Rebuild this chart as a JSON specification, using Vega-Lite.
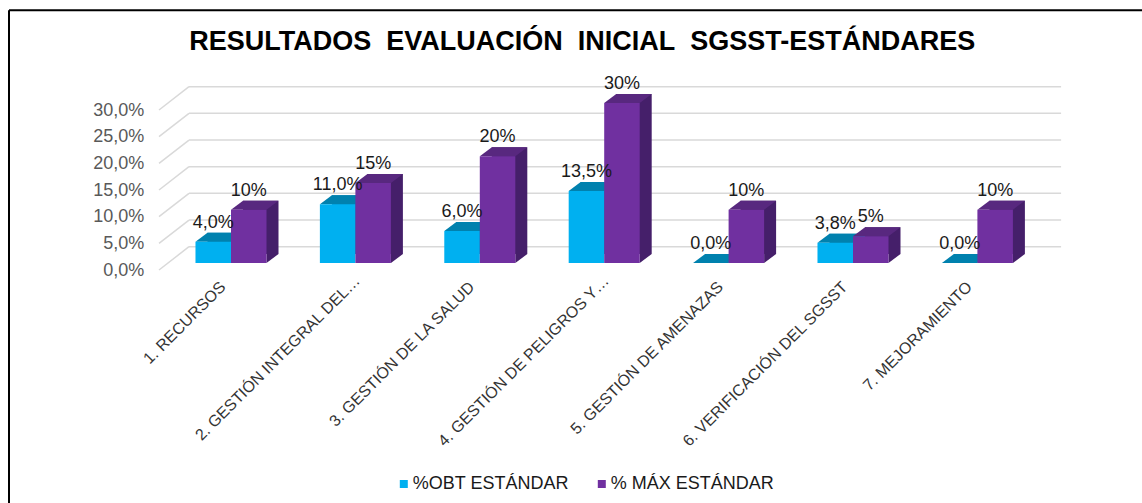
{
"$schema":"https://vega.github.io/schema/vega-lite/v6.json",
"width":870.8,"height":160,
"autosize":{"type":"none"},
"padding":{"left":168.8,"top":103,"right":102.4,"bottom":240},
"background":"white",
"config":{"view":{"stroke":null},"axisY":{"title":null,"domain":false,"ticks":false,"grid":false,"tickCount":6,"labelOverlap":false,"labelExpr":"replace(format(datum.value,'.1f'),'.',',')+'%'","labelFont":"Liberation Sans","labelFontSize":18,"labelColor":"#595959","labelPadding":25,"labelOffset":7}},
"title":{"text":"RESULTADOS\u00a0 EVALUACIÓN\u00a0 INICIAL\u00a0 SGSST-ESTÁNDARES","font":"Liberation Sans","fontSize":27,"fontWeight":"bold","color":"#000000","anchor":"middle","dx":-22,"offset":-47},
"datasets":{
"bars":[
{"cat":"1. RECURSOS","series":"%OBT ESTÁNDAR","value":4,"label":"4,0%"},
{"cat":"1. RECURSOS","series":"% MÁX ESTÁNDAR","value":10,"label":"10%"},
{"cat":"2. GESTIÓN INTEGRAL DEL…","series":"%OBT ESTÁNDAR","value":11,"label":"11,0%"},
{"cat":"2. GESTIÓN INTEGRAL DEL…","series":"% MÁX ESTÁNDAR","value":15,"label":"15%"},
{"cat":"3. GESTIÓN DE LA SALUD","series":"%OBT ESTÁNDAR","value":6,"label":"6,0%"},
{"cat":"3. GESTIÓN DE LA SALUD","series":"% MÁX ESTÁNDAR","value":20,"label":"20%"},
{"cat":"4. GESTIÓN DE PELIGROS Y…","series":"%OBT ESTÁNDAR","value":13.5,"label":"13,5%"},
{"cat":"4. GESTIÓN DE PELIGROS Y…","series":"% MÁX ESTÁNDAR","value":30,"label":"30%"},
{"cat":"5. GESTIÓN DE AMENAZAS","series":"%OBT ESTÁNDAR","value":0,"label":"0,0%"},
{"cat":"5. GESTIÓN DE AMENAZAS","series":"% MÁX ESTÁNDAR","value":10,"label":"10%"},
{"cat":"6. VERIFICACIÓN DEL SGSST","series":"%OBT ESTÁNDAR","value":3.8,"label":"3,8%"},
{"cat":"6. VERIFICACIÓN DEL SGSST","series":"% MÁX ESTÁNDAR","value":5,"label":"5%"},
{"cat":"7. MEJORAMIENTO","series":"%OBT ESTÁNDAR","value":0,"label":"0,0%"},
{"cat":"7. MEJORAMIENTO","series":"% MÁX ESTÁNDAR","value":10,"label":"10%"}
],
"grid":[{"v":0},{"v":5},{"v":10},{"v":15},{"v":20},{"v":25},{"v":30}]
},
"resolve":{"scale":{"x":"independent"}},
"layer":[
{"mark":{"type":"rule","stroke":"#000000","strokeWidth":2,"clip":false},
 "data":{"values":[{"a":1}]},
 "encoding":{
  "x":{"datum":-5,"type":"quantitative","scale":{"domain":[0,1],"range":[-9.8,20.2]},"axis":null},
  "x2":{"datum":40},
  "y":{"datum":47.4,"type":"quantitative","scale":{"domain":[0,30],"nice":false,"zero":false}}}},
{"mark":{"type":"rule","stroke":"#000000","strokeWidth":2,"clip":false},
 "data":{"values":[{"a":1}]},
 "encoding":{
  "x":{"datum":-5,"type":"quantitative","scale":{"domain":[0,1],"range":[-9.8,20.2]},"axis":null},
  "y":{"datum":47.4,"type":"quantitative","scale":{"domain":[0,30],"nice":false,"zero":false}},
  "y2":{"datum":-60}}},
{"data":{"name":"grid"},
 "mark":{"type":"rule","stroke":"#D9D9D9","strokeWidth":1.5,"yOffset":7,"y2Offset":-16.3},
 "encoding":{
  "x":{"datum":0,"type":"quantitative","scale":{"domain":[0,1],"range":[-9.8,20.2]},"axis":null},
  "x2":{"datum":1},
  "y":{"field":"v","type":"quantitative","scale":{"domain":[0,30],"nice":false,"zero":false}},
  "y2":{"field":"v"}}},
{"data":{"name":"grid"},
 "mark":{"type":"rule","stroke":"#D9D9D9","strokeWidth":1.5,"yOffset":-16.3,"y2Offset":-16.3},
 "encoding":{
  "x":{"datum":1,"type":"quantitative","scale":{"domain":[0,1],"range":[-9.8,20.2]},"axis":null},
  "x2":{"datum":30.07},
  "y":{"field":"v","type":"quantitative","scale":{"domain":[0,30],"nice":false,"zero":false}},
  "y2":{"field":"v"}}},
{"data":{"name":"bars"},
 "encoding":{
  "x":{"field":"cat","type":"nominal","sort":null,
   "scale":{"paddingInner":0.429,"paddingOuter":0.2145},
   "axis":{"title":null,"domain":false,"ticks":false,"labelAngle":-45,"labelAlign":"right","labelBaseline":"middle",
    "labelPadding":{"condition":{"test":"indexof(datum.label,'…')>=0","value":15},"value":21},
    "labelOffset":{"condition":{"test":"indexof(datum.label,'…')>=0","value":2},"value":-8},
    "labelLimit":400,"labelFont":"Liberation Sans","labelFontSize":16,"labelColor":"#333333"}},
  "y":{"field":"value","type":"quantitative",
   "scale":{"domain":[0,30],"nice":false,"zero":false}}
 },
 "layer":[
  {"transform":[{"filter":"datum.series==='%OBT ESTÁNDAR'"}],
   "mark":{"type":"bar","color":"#0081AE","width":35.5,"xOffset":-5.75,"yOffset":-9,"y2Offset":-9}},
  {"transform":[{"filter":"datum.series==='%OBT ESTÁNDAR'"}],
   "mark":{"type":"point","filled":true,"opacity":1,"color":"#0081AE","size":4,"shape":"M-17.75,0L-5.75,-9L29.75,-9L17.75,0Z"},
   "encoding":{"xOffset":{"field":"series","type":"nominal","scale":{"domain":["%OBT ESTÁNDAR","% MÁX ESTÁNDAR"],"paddingInner":0,"paddingOuter":0}}}},
  {"transform":[{"filter":"datum.series==='% MÁX ESTÁNDAR'"}],
   "mark":{"type":"bar","color":"#451F6A","width":35.5,"xOffset":29.75,"yOffset":-9,"y2Offset":-9}},
  {"transform":[{"filter":"datum.series==='% MÁX ESTÁNDAR'"}],
   "mark":{"type":"point","filled":true,"opacity":1,"color":"#451F6A","size":4,"shape":"M17.75,0L17.75,-9L29.75,-9Z"},
   "encoding":{"y":{"datum":0,"type":"quantitative"},"xOffset":{"field":"series","type":"nominal","scale":{"domain":["%OBT ESTÁNDAR","% MÁX ESTÁNDAR"],"paddingInner":0,"paddingOuter":0}}}},
  {"transform":[{"filter":"datum.series==='% MÁX ESTÁNDAR'"}],
   "mark":{"type":"point","filled":true,"opacity":1,"color":"#58287F","size":4,"shape":"M-17.75,0L-5.75,-9L29.75,-9L17.75,0Z"},
   "encoding":{"xOffset":{"field":"series","type":"nominal","scale":{"domain":["%OBT ESTÁNDAR","% MÁX ESTÁNDAR"],"paddingInner":0,"paddingOuter":0}}}},
  {"mark":{"type":"bar"},
   "encoding":{"xOffset":{"field":"series","type":"nominal","scale":{"domain":["%OBT ESTÁNDAR","% MÁX ESTÁNDAR"],"paddingInner":0,"paddingOuter":0}},
    "color":{"field":"series","type":"nominal",
    "scale":{"domain":["%OBT ESTÁNDAR","% MÁX ESTÁNDAR"],"range":["#00B0F0","#7030A0"]},
    "legend":{"title":null,"orient":"none","legendX":226,"legendY":372,"direction":"horizontal","symbolType":"square","symbolSize":64,"symbolStrokeWidth":0,"labelFont":"Liberation Sans","labelFontSize":18,"labelColor":"#1a1a1a","labelOffset":0,"columnPadding":23,"labelLimit":300}}}},
  {"mark":{"type":"text","font":"Liberation Sans","fontSize":18,"color":"#1a1a1a","baseline":"middle","dy":-19},
   "encoding":{"xOffset":{"field":"series","type":"nominal","scale":{"domain":["%OBT ESTÁNDAR","% MÁX ESTÁNDAR"],"paddingInner":0,"paddingOuter":0}},"text":{"field":"label","type":"nominal"}}}
 ]}
]
}
